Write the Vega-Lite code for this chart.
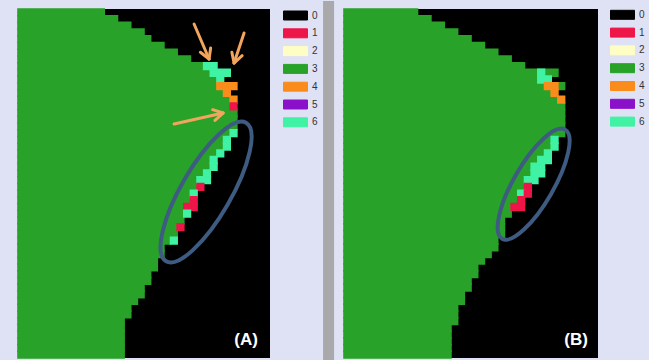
{
  "$schema": "https://vega.github.io/schema/vega-lite/v6.json",
  "background": "#dfe1f5",
  "padding": {"left": 17, "top": 0, "right": 4, "bottom": 0},
  "bounds": "flush",
  "spacing": 74,
  "config": {"view": {"stroke": null}},
  "resolve": {"scale": {"color": "independent", "stroke": "independent", "x": "independent", "y": "independent"}, "legend": {"color": "independent"}},
  "datasets": {
    "gridA": [
      {"r":0,"x":0,"x2":13,"cls":"3"},{"r":1,"x":0,"x2":15,"cls":"3"},{"r":2,"x":0,"x2":17,"cls":"3"},{"r":3,"x":0,"x2":19,"cls":"3"},
      {"r":4,"x":0,"x2":20,"cls":"3"},{"r":5,"x":0,"x2":22,"cls":"3"},{"r":6,"x":0,"x2":24,"cls":"3"},{"r":7,"x":0,"x2":26,"cls":"3"},
      {"r":8,"x":0,"x2":28,"cls":"3"},{"r":9,"x":0,"x2":29,"cls":"3"},{"r":10,"x":0,"x2":30,"cls":"3"},{"r":11,"x":0,"x2":30,"cls":"3"},
      {"r":12,"x":0,"x2":31,"cls":"3"},{"r":13,"x":0,"x2":32,"cls":"3"},{"r":14,"x":0,"x2":32,"cls":"3"},{"r":15,"x":0,"x2":33,"cls":"3"},
      {"r":16,"x":0,"x2":33,"cls":"3"},{"r":17,"x":0,"x2":33,"cls":"3"},{"r":18,"x":0,"x2":32,"cls":"3"},{"r":19,"x":0,"x2":31,"cls":"3"},
      {"r":20,"x":0,"x2":31,"cls":"3"},{"r":21,"x":0,"x2":30,"cls":"3"},{"r":22,"x":0,"x2":29,"cls":"3"},{"r":23,"x":0,"x2":29,"cls":"3"},
      {"r":24,"x":0,"x2":28,"cls":"3"},{"r":25,"x":0,"x2":27,"cls":"3"},{"r":26,"x":0,"x2":27,"cls":"3"},{"r":27,"x":0,"x2":26,"cls":"3"},
      {"r":28,"x":0,"x2":26,"cls":"3"},{"r":29,"x":0,"x2":25,"cls":"3"},{"r":30,"x":0,"x2":25,"cls":"3"},{"r":31,"x":0,"x2":25,"cls":"3"},
      {"r":32,"x":0,"x2":24,"cls":"3"},{"r":33,"x":0,"x2":24,"cls":"3"},{"r":34,"x":0,"x2":23,"cls":"3"},{"r":35,"x":0,"x2":22,"cls":"3"},
      {"r":36,"x":0,"x2":22,"cls":"3"},{"r":37,"x":0,"x2":21,"cls":"3"},{"r":38,"x":0,"x2":21,"cls":"3"},{"r":39,"x":0,"x2":20,"cls":"3"},
      {"r":40,"x":0,"x2":20,"cls":"3"},{"r":41,"x":0,"x2":19,"cls":"3"},{"r":42,"x":0,"x2":19,"cls":"3"},{"r":43,"x":0,"x2":18,"cls":"3"},
      {"r":44,"x":0,"x2":17,"cls":"3"},{"r":45,"x":0,"x2":17,"cls":"3"},{"r":46,"x":0,"x2":16,"cls":"3"},{"r":47,"x":0,"x2":16,"cls":"3"},
      {"r":48,"x":0,"x2":16,"cls":"3"},{"r":49,"x":0,"x2":16,"cls":"3"},{"r":50,"x":0,"x2":16,"cls":"3"},{"r":51,"x":0,"x2":16,"cls":"3"},
      {"r":8,"x":28,"x2":30,"cls":"6"},{"r":9,"x":29,"x2":32,"cls":"6"},{"r":10,"x":30,"x2":31,"cls":"6"},
      {"r":11,"x":30,"x2":33,"cls":"4"},{"r":12,"x":31,"x2":32,"cls":"4"},{"r":13,"x":32,"x2":33,"cls":"4"},{"r":14,"x":32,"x2":33,"cls":"1"},
      {"r":18,"x":32,"x2":33,"cls":"6"},{"r":19,"x":31,"x2":32,"cls":"6"},{"r":20,"x":31,"x2":32,"cls":"6"},{"r":21,"x":30,"x2":31,"cls":"6"},
      {"r":22,"x":29,"x2":30,"cls":"6"},{"r":23,"x":29,"x2":30,"cls":"6"},{"r":24,"x":28,"x2":29,"cls":"6"},{"r":25,"x":27,"x2":29,"cls":"6"},
      {"r":26,"x":27,"x2":28,"cls":"1"},{"r":27,"x":26,"x2":27,"cls":"6"},{"r":28,"x":26,"x2":27,"cls":"1"},{"r":29,"x":25,"x2":27,"cls":"1"},
      {"r":30,"x":25,"x2":26,"cls":"6"},{"r":32,"x":24,"x2":25,"cls":"1"},{"r":34,"x":23,"x2":24,"cls":"6"}
    ],
    "gridB": [
      {"r":0,"x":0,"x2":11,"cls":"3"},{"r":1,"x":0,"x2":13,"cls":"3"},{"r":2,"x":0,"x2":15,"cls":"3"},{"r":3,"x":0,"x2":17,"cls":"3"},
      {"r":4,"x":0,"x2":19,"cls":"3"},{"r":5,"x":0,"x2":21,"cls":"3"},{"r":6,"x":0,"x2":23,"cls":"3"},{"r":7,"x":0,"x2":25,"cls":"3"},
      {"r":8,"x":0,"x2":27,"cls":"3"},{"r":9,"x":0,"x2":32,"cls":"3"},{"r":10,"x":0,"x2":29,"cls":"3"},{"r":11,"x":0,"x2":33,"cls":"3"},
      {"r":12,"x":0,"x2":31,"cls":"3"},{"r":13,"x":0,"x2":32,"cls":"3"},{"r":14,"x":0,"x2":33,"cls":"3"},{"r":15,"x":0,"x2":33,"cls":"3"},
      {"r":16,"x":0,"x2":33,"cls":"3"},{"r":17,"x":0,"x2":33,"cls":"3"},{"r":18,"x":0,"x2":33,"cls":"3"},{"r":19,"x":0,"x2":31,"cls":"3"},
      {"r":20,"x":0,"x2":31,"cls":"3"},{"r":21,"x":0,"x2":30,"cls":"3"},{"r":22,"x":0,"x2":29,"cls":"3"},{"r":23,"x":0,"x2":28,"cls":"3"},
      {"r":24,"x":0,"x2":28,"cls":"3"},{"r":25,"x":0,"x2":27,"cls":"3"},{"r":26,"x":0,"x2":27,"cls":"3"},{"r":27,"x":0,"x2":26,"cls":"3"},
      {"r":28,"x":0,"x2":26,"cls":"3"},{"r":29,"x":0,"x2":25,"cls":"3"},{"r":30,"x":0,"x2":25,"cls":"3"},{"r":31,"x":0,"x2":24,"cls":"3"},
      {"r":32,"x":0,"x2":24,"cls":"3"},{"r":33,"x":0,"x2":24,"cls":"3"},{"r":34,"x":0,"x2":23,"cls":"3"},{"r":35,"x":0,"x2":23,"cls":"3"},
      {"r":36,"x":0,"x2":22,"cls":"3"},{"r":37,"x":0,"x2":21,"cls":"3"},{"r":38,"x":0,"x2":20,"cls":"3"},{"r":39,"x":0,"x2":20,"cls":"3"},
      {"r":40,"x":0,"x2":19,"cls":"3"},{"r":41,"x":0,"x2":19,"cls":"3"},{"r":42,"x":0,"x2":18,"cls":"3"},{"r":43,"x":0,"x2":18,"cls":"3"},
      {"r":44,"x":0,"x2":17,"cls":"3"},{"r":45,"x":0,"x2":17,"cls":"3"},{"r":46,"x":0,"x2":17,"cls":"3"},{"r":47,"x":0,"x2":16,"cls":"3"},
      {"r":48,"x":0,"x2":16,"cls":"3"},{"r":49,"x":0,"x2":16,"cls":"3"},{"r":50,"x":0,"x2":16,"cls":"3"},{"r":51,"x":0,"x2":16,"cls":"3"},
      {"r":9,"x":29,"x2":30,"cls":"6"},{"r":10,"x":29,"x2":31,"cls":"6"},
      {"r":11,"x":30,"x2":32,"cls":"4"},{"r":12,"x":31,"x2":32,"cls":"4"},{"r":13,"x":32,"x2":33,"cls":"4"},
      {"r":19,"x":31,"x2":32,"cls":"6"},{"r":20,"x":31,"x2":32,"cls":"6"},{"r":21,"x":30,"x2":31,"cls":"6"},{"r":22,"x":29,"x2":31,"cls":"6"},
      {"r":23,"x":28,"x2":30,"cls":"6"},{"r":24,"x":28,"x2":30,"cls":"6"},{"r":25,"x":27,"x2":29,"cls":"6"},
      {"r":26,"x":27,"x2":28,"cls":"1"},{"r":27,"x":26,"x2":27,"cls":"6"},{"r":27,"x":27,"x2":28,"cls":"1"},
      {"r":28,"x":26,"x2":27,"cls":"1"},{"r":29,"x":25,"x2":27,"cls":"1"}
    ],
    "arrowsA": [
      {"x":26.55,"y":2.24,"x2":28.81,"y2":7.45},
      {"x":28.81,"y":7.45,"x2":29.05,"y2":5.8},
      {"x":28.81,"y":7.45,"x2":27.5,"y2":6.45},
      {"x":34.09,"y":3.58,"x2":32.58,"y2":8.05},
      {"x":32.58,"y":8.05,"x2":33.8,"y2":6.95},
      {"x":32.58,"y":8.05,"x2":32.25,"y2":6.45},
      {"x":23.53,"y":17.14,"x2":30.92,"y2":15.5},
      {"x":30.92,"y":15.5,"x2":29.35,"y2":15.0},
      {"x":30.92,"y":15.5,"x2":29.7,"y2":16.6}
    ]
  },
  "hconcat": [
    {
      "width": 252,
      "height": 349,
      "view": {"fill": "#000000", "stroke": null},
      "resolve": {"scale": {"y": "independent"}},
      "layer": [
        {
          "data": {"name": "gridA"},
          "mark": {"type": "rect", "strokeWidth": 1.6},
          "encoding": {
            "x": {"field": "x", "type": "quantitative", "scale": {"domain": [0, 38], "nice": false, "zero": false}, "axis": null},
            "x2": {"field": "x2"},
            "y": {"field": "r", "type": "ordinal", "scale": {"paddingInner": 0, "paddingOuter": 0}, "axis": null},
            "stroke": {"field": "cls", "type": "nominal", "legend": null,
              "scale": {"domain": ["0","1","2","3","4","5","6"], "range": ["#000000","#ee1549","#fdfdc4","#28a228","#fa8c1c","#8b10c9","#3ff2a4"]}},
            "color": {
              "field": "cls", "type": "nominal",
              "scale": {"domain": ["0","1","2","3","4","5","6"], "range": ["#000000","#ee1549","#fdfdc4","#28a228","#fa8c1c","#8b10c9","#3ff2a4"]},
              "legend": {"orient": "none", "legendX": 272.5, "legendY": 1.5, "title": null, "padding": 0,
                "symbolType": "M-3,-1.125H3V1.125H-3Z", "symbolSize": 64, "symbolStrokeColor": "#222222", "symbolStrokeWidth": 1, "symbolOpacity": 1,
                "labelFont": "Liberation Sans", "labelFontSize": 10, "labelColor": "#333333", "labelOffset": 11.5, "rowPadding": 3.8}
            }
          }
        },
        {
          "data": {"values": [{}]},
          "mark": {"type": "rect", "color": "#a9a9ab"},
          "encoding": {
            "x": {"datum": 46.0, "type": "quantitative", "scale": {"domain": [0, 38], "nice": false, "zero": false}, "axis": null},
            "x2": {"datum": 47.66},
            "y": {"datum": -1.192, "type": "quantitative", "scale": {"domain": [0, 52], "reverse": true, "nice": false, "zero": false}, "axis": null},
            "y2": {"datum": 52.45}
          }
        },
        {
          "data": {"values": [{"cx": 28.36, "cy": 27.27}]},
          "mark": {"type": "point", "shape": "M-1,0A1,0.3125,0,1,1,1,0A1,0.3125,0,1,1,-1,0Z", "size": 25600, "angle": 300, "filled": false, "stroke": "#3e5b82", "strokeWidth": 4, "opacity": 1},
          "encoding": {
            "x": {"field": "cx", "type": "quantitative", "scale": {"domain": [0, 38], "nice": false, "zero": false}, "axis": null},
            "y": {"field": "cy", "type": "quantitative", "scale": {"domain": [0, 52], "reverse": true, "nice": false, "zero": false}, "axis": null}
          }
        },
        {
          "data": {"name": "arrowsA"},
          "mark": {"type": "rule", "color": "#f2a55c", "strokeWidth": 3, "strokeCap": "round"},
          "encoding": {
            "x": {"field": "x", "type": "quantitative", "scale": {"domain": [0, 38], "nice": false, "zero": false}, "axis": null},
            "x2": {"field": "x2"},
            "y": {"field": "y", "type": "quantitative", "scale": {"domain": [0, 52], "reverse": true, "nice": false, "zero": false}, "axis": null},
            "y2": {"field": "y2"}
          }
        },
        {
          "data": {"values": [{"t": "(A)", "x": 34.39, "y": 49.25}]},
          "mark": {"type": "text", "color": "#ffffff", "font": "Liberation Sans", "fontWeight": "bold", "fontSize": 17, "align": "center", "baseline": "middle"},
          "encoding": {
            "x": {"field": "x", "type": "quantitative", "scale": {"domain": [0, 38], "nice": false, "zero": false}, "axis": null},
            "y": {"field": "y", "type": "quantitative", "scale": {"domain": [0, 52], "reverse": true, "nice": false, "zero": false}, "axis": null},
            "text": {"field": "t"}
          }
        }
      ]
    },
    {
      "width": 254,
      "height": 349,
      "view": {"fill": "#000000", "stroke": null},
      "resolve": {"scale": {"y": "independent"}},
      "layer": [
        {
          "data": {"name": "gridB"},
          "mark": {"type": "rect", "strokeWidth": 1.6},
          "encoding": {
            "x": {"field": "x", "type": "quantitative", "scale": {"domain": [0, 38], "nice": false, "zero": false}, "axis": null},
            "x2": {"field": "x2"},
            "y": {"field": "r", "type": "ordinal", "scale": {"paddingInner": 0, "paddingOuter": 0}, "axis": null},
            "stroke": {"field": "cls", "type": "nominal", "legend": null,
              "scale": {"domain": ["0","1","2","3","4","5","6"], "range": ["#000000","#ee1549","#fdfdc4","#28a228","#fa8c1c","#8b10c9","#3ff2a4"]}},
            "color": {
              "field": "cls", "type": "nominal",
              "scale": {"domain": ["0","1","2","3","4","5","6"], "range": ["#000000","#ee1549","#fdfdc4","#28a228","#fa8c1c","#8b10c9","#3ff2a4"]},
              "legend": {"orient": "none", "legendX": 273.5, "legendY": 0.8, "title": null, "padding": 0,
                "symbolType": "M-3,-1.125H3V1.125H-3Z", "symbolSize": 64, "symbolStrokeColor": "#222222", "symbolStrokeWidth": 1, "symbolOpacity": 1,
                "labelFont": "Liberation Sans", "labelFontSize": 10, "labelColor": "#333333", "labelOffset": 11.5, "rowPadding": 3.8}
            }
          }
        },
        {
          "data": {"values": [{"cx": 28.37, "cy": 26.1}]},
          "mark": {"type": "point", "shape": "M-1,0A1,0.3175,0,1,1,1,0A1,0.3175,0,1,1,-1,0Z", "size": 15876, "angle": 300, "filled": false, "stroke": "#3e5b82", "strokeWidth": 4, "opacity": 1},
          "encoding": {
            "x": {"field": "cx", "type": "quantitative", "scale": {"domain": [0, 38], "nice": false, "zero": false}, "axis": null},
            "y": {"field": "cy", "type": "quantitative", "scale": {"domain": [0, 52], "reverse": true, "nice": false, "zero": false}, "axis": null}
          }
        },
        {
          "data": {"values": [{"t": "(B)", "x": 34.73, "y": 49.3}]},
          "mark": {"type": "text", "color": "#ffffff", "font": "Liberation Sans", "fontWeight": "bold", "fontSize": 17, "align": "center", "baseline": "middle"},
          "encoding": {
            "x": {"field": "x", "type": "quantitative", "scale": {"domain": [0, 38], "nice": false, "zero": false}, "axis": null},
            "y": {"field": "y", "type": "quantitative", "scale": {"domain": [0, 52], "reverse": true, "nice": false, "zero": false}, "axis": null},
            "text": {"field": "t"}
          }
        }
      ]
    }
  ]
}
